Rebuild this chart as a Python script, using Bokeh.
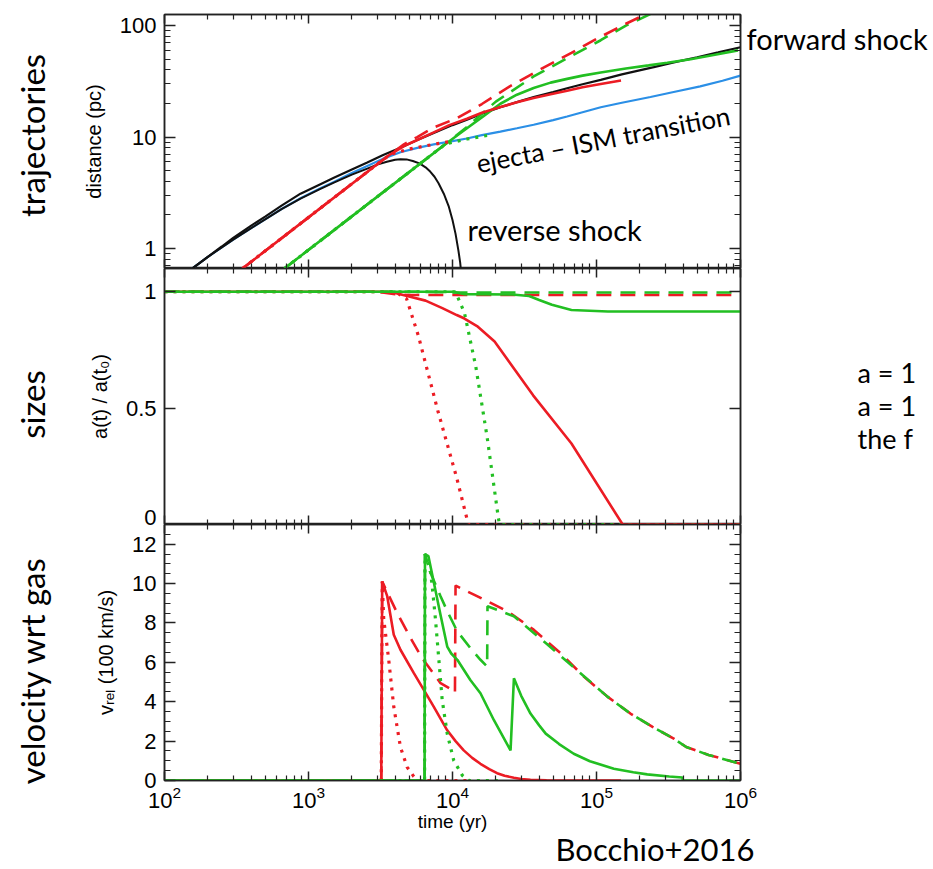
import math
from bokeh.plotting import figure
from bokeh.layouts import column
from bokeh.models import (Range1d, FixedTicker, LogAxis, LinearAxis, Label, GridBox,
                          CustomJSTickFormatter, LogTickFormatter)
from bokeh.embed import file_html
from bokeh.resources import INLINE

# ------------------------------------------------------------------ data
# top panel: trajectories  (time in yr, distance in pc)
fs_t = [156, 200, 250, 300, 400, 500, 650, 880, 1200, 1500, 2000, 2560, 3300, 4350, 5700, 7410, 10000, 12600,
        16000, 21500, 28000, 36600, 50000, 62500, 80000, 107000, 150000, 250000, 350000, 500000, 700000, 1000000]
fs_d = [0.66, 0.84, 1.04, 1.24, 1.6, 1.93, 2.42, 3.1, 3.75, 4.3, 5.1, 5.9, 6.9, 8.0, 9.4, 10.9, 12.8, 14.3,
        16.2, 18.5, 20.6, 22.8, 25.3, 27.4, 29.8, 32.6, 36.5, 42.4, 47.0, 52.0, 57.5, 64.0]
rs_t = [156, 200, 250, 300, 400, 500, 650, 880, 1200, 1500, 2000, 2560, 3000, 3500, 4000, 4350, 4800, 5300,
        5900, 6500, 7000, 7500, 8000, 8700, 9400, 10000, 10500, 11000, 11300, 11500]
rs_d = [0.66, 0.84, 1.02, 1.2, 1.52, 1.82, 2.25, 2.8, 3.4, 3.9, 4.6, 5.2, 5.65, 6.0, 6.25, 6.33, 6.3, 6.1,
        5.8, 5.35, 4.9, 4.4, 3.85, 3.1, 2.4, 1.8, 1.35, 0.95, 0.75, 0.6]
cd_t = [156, 200, 250, 300, 400, 500, 650, 880, 1200, 1500, 2000, 2560, 3300, 4350, 5700, 7410, 10000, 12600,
        16000, 21500, 28000, 36600, 50000, 62500, 80000, 107000, 150000, 237000, 350000, 525000, 750000, 1000000]
cd_d = [0.66, 0.84, 1.02, 1.2, 1.52, 1.82, 2.26, 2.82, 3.45, 3.95, 4.75, 5.5, 6.4, 7.3, 8.0, 8.6, 9.2, 9.7,
        10.4, 11.2, 12.0, 12.9, 14.2, 15.3, 16.7, 18.5, 20.3, 22.9, 25.5, 28.5, 32.0, 35.6]

red_solid_t = [348, 1000, 3000, 3700, 4600, 5690, 7410, 9500, 12600, 16000, 21500, 28000, 36600, 48000, 62500,
               80000, 107000, 148000]
red_solid_d = [0.66, 1.9, 5.7, 7.0, 8.3, 9.4, 11.0, 12.8, 14.6, 16.5, 18.6, 20.5, 22.4, 24.2, 26.0,
               28.0, 30.0, 32.2]
red_dash_t = [348, 1000, 3000, 3700, 4600, 5690, 7410, 10800, 16000, 25000, 40000, 67000, 100000, 150000, 235000]
red_dash_d = [0.66, 1.9, 5.7, 7.0, 8.6, 10.0, 12.2, 14.8, 19.8, 28.5, 40.0, 57.0, 76.0, 100.0, 132.0]
red_dot_t = [348, 1000, 3000, 3700, 5000, 7410, 10200]
red_dot_d = [0.66, 1.9, 5.7, 7.0, 7.8, 8.6, 9.25]

green_solid_t = [681, 2000, 6440, 9000, 12600, 16500, 21500, 28000, 36600, 48000, 62500, 80000, 107000, 160000,
                 230000, 310000, 450000, 650000, 960000]
green_solid_d = [0.66, 1.94, 6.24, 8.7, 12.0, 15.5, 19.9, 24.0, 27.6, 30.8, 33.3, 35.6, 38.0, 41.3,
                 44.0, 46.5, 50.0, 54.5, 60.0]
green_dash_t = [681, 2000, 6440, 9000, 12600, 16000, 20000, 36600, 62500, 107000, 160000, 245000]
green_dash_d = [0.66, 1.94, 6.24, 8.7, 12.3, 16.2, 20.8, 35.0, 51.0, 74.0, 100.0, 130.0]
green_dot_t = [681, 2000, 6440, 8000, 9000, 12600, 18000]
green_dot_d = [0.66, 1.94, 6.24, 7.75, 8.7, 9.6, 10.4]

# middle panel: grain sizes a(t)/a(t0)
sz_red_solid_t = [100, 3500, 4000, 5000, 6500, 8500, 10700, 12100, 15000, 19600, 36300, 67000, 152000, 1000000]
sz_red_solid = [1.0, 1.0, 0.995, 0.98, 0.962, 0.93, 0.90, 0.885, 0.85, 0.786, 0.555, 0.348, 0.0, 0.0]
sz_red_dot_t = [100, 4000, 4800, 5800, 7900, 10700, 12900, 1000000]
sz_red_dot = [1.0, 1.0, 0.97, 0.81, 0.49, 0.20, 0.0, 0.0]
sz_red_dash_t = [100, 3000, 4000, 5000, 1000000]
sz_red_dash = [1.0, 1.0, 0.99, 0.986, 0.986]
sz_green_solid_t = [100, 10000, 12000, 26000, 34000, 40000, 49000, 67000, 120000, 1000000]
sz_green_solid = [1.0, 1.0, 0.99, 0.988, 0.982, 0.965, 0.944, 0.922, 0.915, 0.915]
sz_green_dot_t = [100, 10400, 11000, 12100, 14500, 17400, 20800, 21200, 1000000]
sz_green_dot = [1.0, 1.0, 0.97, 0.91, 0.68, 0.375, 0.03, 0.0, 0.0]
sz_green_dash_t = [100, 6400, 10000, 1000000]
sz_green_dash = [1.0, 1.0, 0.997, 0.997]

# bottom panel: velocity relative to gas (100 km/s)
v_red_solid_t = [100, 3200, 3250, 3520, 3910, 4350, 5390, 6320, 7420, 9190, 10500, 11970, 13700, 15630, 18000,
                 20400, 23000, 26700, 30000, 34800, 45000, 60000, 148000]
v_red_solid = [0, 0, 10.1, 9.36, 7.4, 6.64, 5.45, 4.6, 3.74, 2.55, 2.0, 1.53, 1.15, 0.85, 0.58,
               0.37, 0.24, 0.14, 0.08, 0.04, 0.01, 0, 0]
v_red_dot_t = [100, 3200, 3250, 3330, 3610, 3910, 4350, 4840, 5390, 5800, 12900]
v_red_dot = [0, 0, 10.1, 8.2, 6.1, 3.74, 1.7, 0.68, 0.2, 0, 0]
v_red_dash_t = [100, 3200, 3250, 4130, 5110, 6170, 8260, 9960, 10400, 10500, 14800, 24000, 36600, 56200, 81600,
                119000, 172000, 245000, 344000, 420000, 600000, 900000, 1000000]
v_red_dash = [0, 0, 10.1, 8.5, 7.24, 6.2, 4.94, 4.6, 4.45, 9.9, 9.36, 8.6, 7.66, 6.47, 5.28,
              4.26, 3.4, 2.72, 2.13, 1.7, 1.3, 0.94, 0.85]
v_green_solid_t = [100, 6400, 6440, 6800, 8260, 9190, 9800, 10800, 13300, 15640, 19400, 25300, 26700, 30000,
                   34800, 40000, 44400, 55000, 69500, 90000, 132000, 180000, 225000, 320000, 395000, 397000, 1000000]
v_green_solid = [0, 0, 11.5, 11.4, 8.4, 6.8, 6.45, 6.13, 5.1, 4.43, 3.06, 1.53, 5.19, 4.3,
                 3.4, 2.8, 2.38, 1.85, 1.36, 0.98, 0.6, 0.42, 0.31, 0.2, 0.15, 0, 0]
v_green_dot_t = [100, 6400, 6440, 7030, 7230, 7620, 8040, 8480, 9190, 10200, 11700, 13000, 21000]
v_green_dot = [0, 0, 11.5, 10.6, 9.87, 8.17, 6.13, 4.09, 2.38, 1.02, 0.26, 0, 0]
v_green_dash_t = [100, 6400, 6440, 7030, 8260, 9190, 10800, 13300, 15640, 17400, 17500, 26700, 44400, 77400,
                  119000, 172000, 245000, 344000, 420000, 600000, 900000, 1000000]
v_green_dash = [0, 0, 11.5, 10.55, 9.36, 8.6, 7.57, 6.73, 6.13, 5.79, 8.85, 8.34, 6.98, 5.45,
                4.26, 3.4, 2.72, 2.13, 1.7, 1.3, 0.94, 0.85]

# axis ticks
x_major = [1e2, 1e3, 1e4, 1e5, 1e6]
x_minor = [k * 10 ** n for n in range(2, 6) for k in range(2, 10)]
top_major = [1, 10, 100]
top_minor = [0.7, 0.8, 0.9] + [k for k in range(2, 10)] + [10 * k for k in range(2, 10)]
mid_major = [0.5, 1.0]
bot_major = [0, 2, 4, 6, 8, 10, 12]
bot_minor = [0.5 * i for i in range(0, 27) if i % 4 != 0]

TOP_RANGE = (0.66, 126.0)
MID_RANGE = (0.0, 1.1)
BOT_RANGE = (0.0, 13.0)

# ------------------------------------------------------------------ style
RED = "#ec1c24"
GREEN = "#22bf22"
BLUE = "#2b8fe6"
BLACK = "#111111"
AX = "#222222"
DASH = "15 9"
DOT = "3 6"

W, H = 933, 869
FRAME_L, FRAME_R = 164, 740
BORDER_R = W - FRAME_R
P1_TOP, P1_BOT = 14, 268
P2_TOP, P2_BOT = 268, 524
P3_TOP, P3_BOT = 524, 780


def style_axis(ax, maj, mnr, labels):
    ax.major_tick_in = maj
    ax.major_tick_out = 0
    ax.minor_tick_in = mnr
    ax.minor_tick_out = 0
    ax.axis_line_color = AX
    ax.axis_line_width = 1.5
    ax.major_tick_line_color = AX
    ax.major_tick_line_width = 1.5
    ax.minor_tick_line_color = AX
    ax.minor_tick_line_width = 1.2
    if labels:
        ax.major_label_text_font = "Liberation Sans"
        ax.major_label_text_font_size = "22px"
        ax.major_label_text_color = "black"
        ax.major_label_standoff = 8
    else:
        ax.formatter = CustomJSTickFormatter(code="return '';")
        ax.major_label_text_font_size = "1px"
        ax.major_label_standoff = 0
    ax.axis_label_text_font = "Liberation Sans"
    ax.axis_label_text_font_size = "20px"
    ax.axis_label_text_font_style = "normal"
    ax.axis_label_text_color = "black"
    ax.axis_label_standoff = 12


def make_fig(height, yr, ytype, top, bottom, y_major, y_minor, ymaj_len, ymin_len):
    p = figure(width=W, height=height, x_axis_type="log", y_axis_type=ytype,
               x_range=Range1d(1e2, 1e6), y_range=Range1d(*yr),
               output_backend="svg", toolbar_location=None,
               min_border_left=FRAME_L, min_border_right=BORDER_R,
               min_border_top=top, min_border_bottom=bottom)
    p.outline_line_color = AX
    p.outline_line_width = 1.5
    p.grid.visible = False
    p.background_fill_color = "white"
    p.border_fill_color = "white"
    top_ax = LogAxis()
    p.add_layout(top_ax, "above")
    right_ax = LogAxis() if ytype == "log" else LinearAxis()
    p.add_layout(right_ax, "right")
    bottom_ax = p.below[0]
    left_ax = p.left[0]
    for ax in (bottom_ax, top_ax):
        ax.ticker = FixedTicker(ticks=x_major, minor_ticks=x_minor)
        style_axis(ax, 9, 5, False)
    for ax in (left_ax, right_ax):
        ax.ticker = FixedTicker(ticks=y_major, minor_ticks=y_minor)
        style_axis(ax, ymaj_len, ymin_len, False)
    return p, left_ax, bottom_ax


# ------------------------------------------------------------------ top panel
p1, l1, b1 = make_fig(P1_BOT, TOP_RANGE, "log", P1_TOP, 0, top_major, top_minor, 11, 6)
style_axis(l1, 11, 6, True)
l1.formatter = CustomJSTickFormatter(code="return String(tick);")
l1.axis_label = "distance (pc)"

p1.line(cd_t, cd_d, color=BLUE, line_width=2.2)
p1.line(fs_t, fs_d, color=BLACK, line_width=2.2)
p1.line(rs_t, rs_d, color=BLACK, line_width=2.0)
p1.line(green_solid_t, green_solid_d, color=GREEN, line_width=2.6)
p1.line(green_dash_t, green_dash_d, color=GREEN, line_width=2.6, line_dash=DASH)
p1.line(green_dot_t, green_dot_d, color=GREEN, line_width=3.2, line_dash=DOT)
p1.line(red_solid_t, red_solid_d, color=RED, line_width=2.6)
p1.line(red_dash_t, red_dash_d, color=RED, line_width=2.6, line_dash=DASH)
p1.line(red_dot_t, red_dot_d, color=RED, line_width=3.2, line_dash=DOT)

# ------------------------------------------------------------------ middle panel
p2, l2, b2 = make_fig(P2_BOT - P2_TOP, MID_RANGE, "linear", 0, 0, mid_major, [], 11, 6)
style_axis(l2, 11, 6, True)
l2.formatter = CustomJSTickFormatter(code="return String(tick);")
l2.axis_label = "a(t) / a(t\u2080)"

p2.line(sz_red_dot_t, sz_red_dot, color=RED, line_width=3.2, line_dash=DOT)
p2.line(sz_green_dot_t, sz_green_dot, color=GREEN, line_width=3.2, line_dash=DOT)
p2.line(sz_red_solid_t, sz_red_solid, color=RED, line_width=2.6)
p2.line(sz_red_dash_t, sz_red_dash, color=RED, line_width=2.6, line_dash=DASH)
p2.line(sz_green_dash_t, sz_green_dash, color=GREEN, line_width=2.6, line_dash=DASH)
p2.line(sz_green_solid_t, sz_green_solid, color=GREEN, line_width=2.6)

# ------------------------------------------------------------------ bottom panel
p3, l3, b3 = make_fig(H - P3_TOP, BOT_RANGE, "linear", 0, H - P3_BOT, bot_major, bot_minor, 11, 6)
style_axis(l3, 11, 6, True)
l3.formatter = CustomJSTickFormatter(code="return String(tick);")
l3.axis_label = "v\u1d63\u2091\u2097 (100 km/s)"
style_axis(b3, 9, 5, True)
b3.formatter = LogTickFormatter()
b3.major_label_standoff = 5
b3.axis_label = "time (yr)"
b3.axis_label_text_font_size = "19px"
b3.axis_label_standoff = 0

p3.line(v_red_dot_t, v_red_dot, color=RED, line_width=3.2, line_dash=DOT)
p3.line(v_red_dash_t, v_red_dash, color=RED, line_width=2.6, line_dash=DASH)
p3.line(v_red_solid_t, v_red_solid, color=RED, line_width=2.6)
p3.line(v_green_dash_t, v_green_dash, color=GREEN, line_width=2.6, line_dash=DASH)
p3.line(v_green_dot_t, v_green_dot, color=GREEN, line_width=3.2, line_dash=DOT)
p3.line(v_green_solid_t, v_green_solid, color=GREEN, line_width=2.6)

# ------------------------------------------------------------------ transparent text overlay (page pixels)
ov = figure(width=W, height=H, x_range=Range1d(0, W), y_range=Range1d(H, 0),
            output_backend="svg", toolbar_location=None, min_border=0,
            x_axis_location=None, y_axis_location=None)
ov.grid.visible = False
ov.outline_line_color = None
ov.background_fill_alpha = 0
ov.border_fill_alpha = 0
try:
    ov.frame_align = False
except Exception:
    pass


def add_text(text, x, y, size, angle=0.0, align="left", baseline="middle", font="Lato"):
    ov.add_layout(Label(x=x, y=y, text=text, angle=angle, text_align=align,
                        text_baseline=baseline, text_font=font,
                        text_font_size=f"{size}px", text_color="black"))


add_text("trajectories", 31, 135, 33, angle=math.pi / 2, align="center")
add_text("sizes", 31, 404, 33, angle=math.pi / 2, align="center")
add_text("velocity wrt gas", 31, 670, 33, angle=math.pi / 2, align="center")
add_text("forward shock", 746, 38, 29)
add_text("reverse shock", 467, 229, 29)
add_text("ejecta \u2013 ISM transition", 476, 163, 26, angle=0.19, baseline="alphabetic")
add_text("a = 1", 857, 372, 27)
add_text("a = 1", 857, 405, 27)
add_text("the f", 857, 438, 27)
add_text("Bocchio+2016", 555, 848, 31)
add_text("0", 156, 517, 22, align="right", font="Liberation Sans")

panels = column(p1, p2, p3, spacing=0)
layout = GridBox(children=[(panels, 0, 0), (ov, 0, 0)], spacing=0)
open("out.html", "w").write(file_html(layout, INLINE))
